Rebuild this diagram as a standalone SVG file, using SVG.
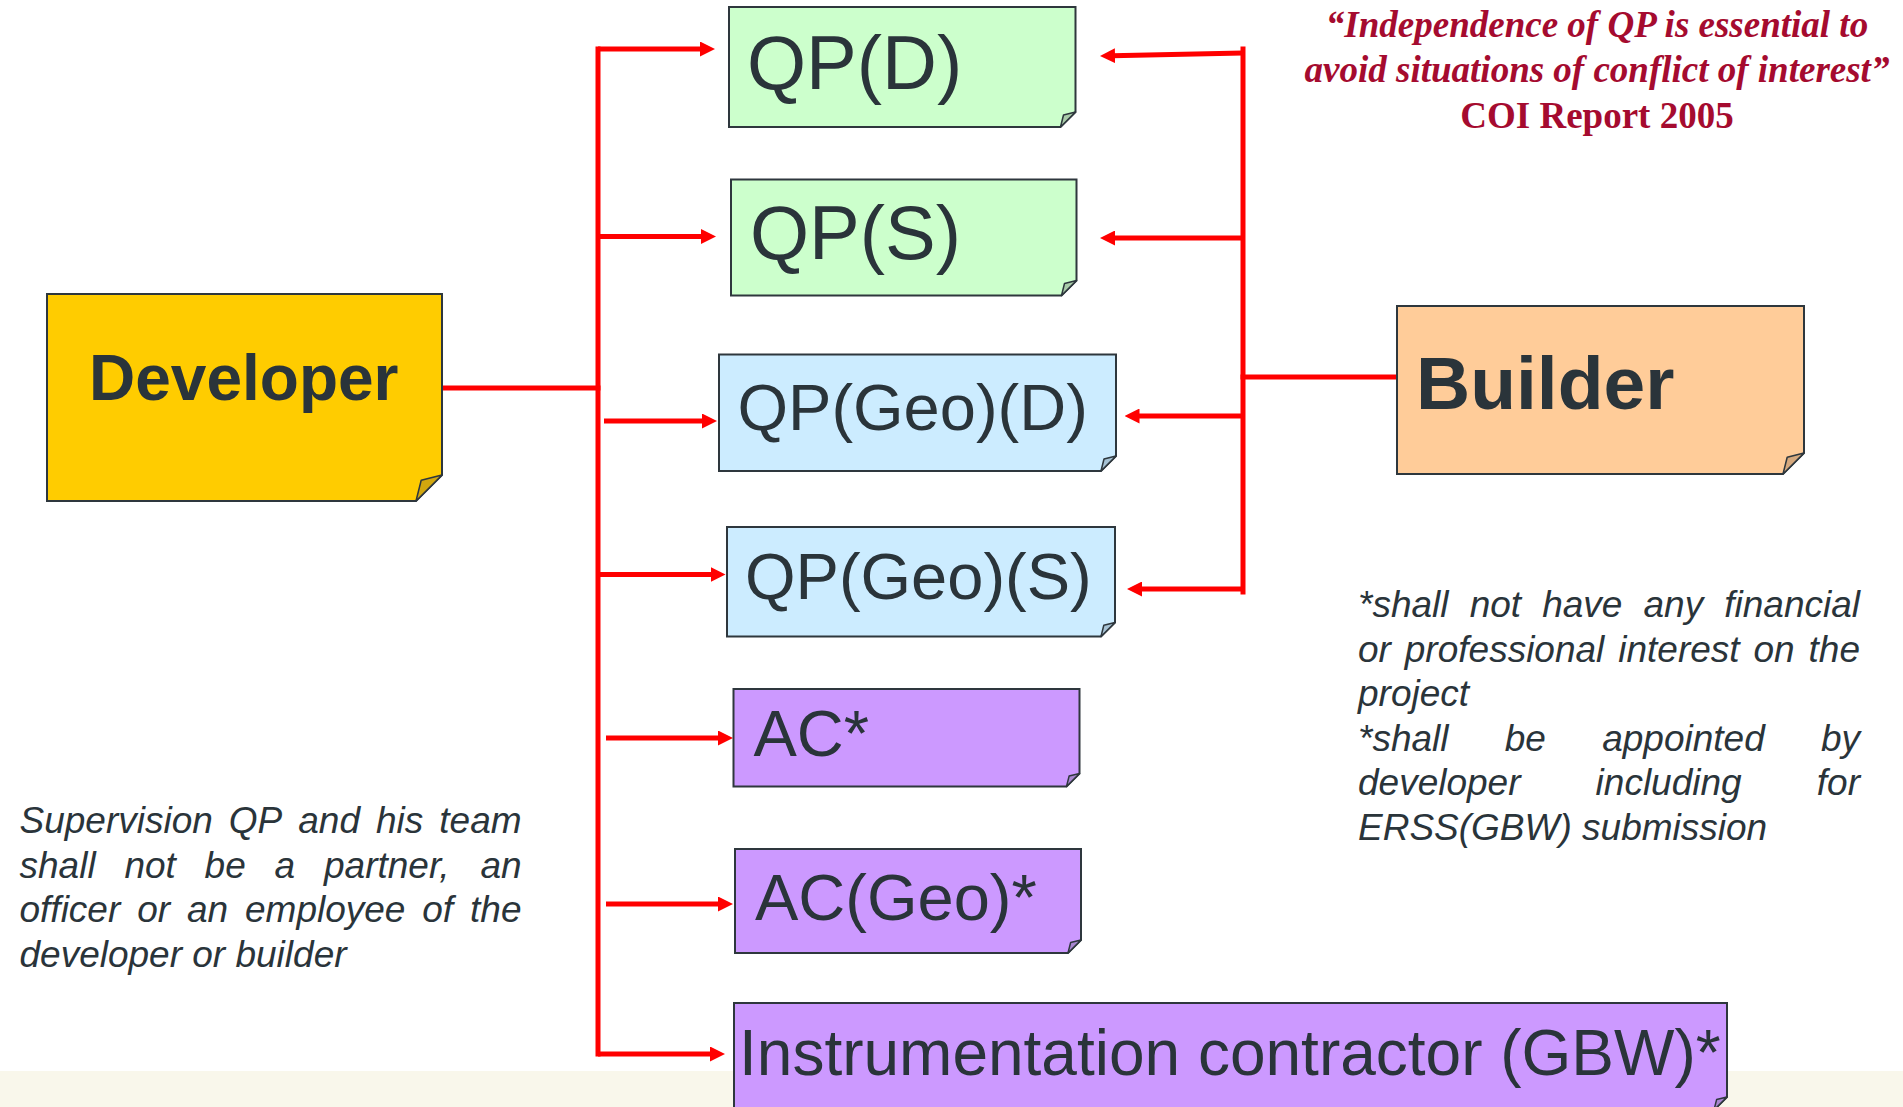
<svg xmlns="http://www.w3.org/2000/svg" width="1903" height="1107" viewBox="0 0 1903 1107">
<defs>
<style>
.box{stroke:#2E373D;stroke-width:2;stroke-linejoin:miter}
.fold{stroke:#2E373D;stroke-width:1.5;stroke-linejoin:round}
.lbl{font-family:"Liberation Sans",Arial,sans-serif;fill:#2A343A}
.bold{font-weight:bold}
.note{font-family:"Liberation Sans",Arial,sans-serif;font-style:italic;font-size:37px;fill:#2A343A}
.quote{font-family:"Liberation Serif","Times New Roman",serif;font-size:37px;font-weight:bold;fill:#A50B2F;text-anchor:middle}
.wire{stroke:#FF0000;stroke-width:5;fill:none;stroke-linecap:square}
.arr{stroke:#FF0000;stroke-width:5;fill:none;stroke-linecap:butt;marker-end:url(#ah)}
</style>
<marker id="ah" viewBox="0 0 15 15" refX="3" refY="7.5" markerWidth="15" markerHeight="15" markerUnits="userSpaceOnUse" orient="auto">
<path d="M0,0 L15,7.5 L0,15 z" fill="#FF0000"/>
</marker>
</defs>

<rect x="0" y="0" width="1903" height="1107" fill="#FFFFFF"/>
<rect x="0" y="1071" width="1903" height="36" fill="#F9F7EB"/>

<g id="connectors">
<line class="wire" x1="444" y1="388" x2="598" y2="388"/>
<line class="wire" x1="598" y1="49" x2="598" y2="1054"/>
<line class="arr" x1="598" y1="49" x2="703" y2="49"/>
<line class="arr" x1="598" y1="236.5" x2="704" y2="236.5"/>
<line class="arr" x1="604" y1="421" x2="705" y2="421"/>
<line class="arr" x1="598" y1="574.5" x2="713.5" y2="574.5"/>
<line class="arr" x1="606" y1="738" x2="721" y2="738"/>
<line class="arr" x1="606" y1="904" x2="721" y2="904"/>
<line class="arr" x1="598" y1="1054" x2="713" y2="1054"/>

<line class="wire" x1="1396" y1="377" x2="1243" y2="377"/>
<line class="wire" x1="1243" y1="49" x2="1243" y2="592"/>
<line class="arr" x1="1243" y1="53" x2="1112" y2="55.7"/>
<line class="arr" x1="1243" y1="238" x2="1112" y2="238"/>
<line class="arr" x1="1243" y1="416" x2="1136.5" y2="416"/>
<line class="arr" x1="1243" y1="589" x2="1139" y2="589"/>
</g>

<g id="developer">
<polygon class="box" fill="#FFCC00" points="47,294 442,294 442,475 416,501 47,501"/>
<polygon class="fold" fill="#D2A70E" points="416,501 421.2,480.2 442,475"/>
<text class="lbl bold" x="89" y="400" font-size="64">Developer</text>
</g>

<g id="qp-d">
<polygon class="box" fill="#CCFFCC" points="729,7 1075.5,7 1075.5,112 1060.5,127 729,127"/>
<polygon class="fold" fill="#A9CCA9" points="1060.5,127 1063.5,115 1075.5,112"/>
<text class="lbl" x="747" y="88.5" font-size="76">QP(D)</text>
</g>

<g id="qp-s">
<polygon class="box" fill="#CCFFCC" points="731,179.5 1076.5,179.5 1076.5,280.5 1061.5,295.5 731,295.5"/>
<polygon class="fold" fill="#A9CCA9" points="1061.5,295.5 1064.5,283.5 1076.5,280.5"/>
<text class="lbl" x="750" y="258.5" font-size="76">QP(S)</text>
</g>

<g id="qp-geo-d">
<polygon class="box" fill="#CCECFF" points="719,354.5 1116,354.5 1116,456 1101,471 719,471"/>
<polygon class="fold" fill="#A6C2D4" points="1101,471 1104,459 1116,456"/>
<text class="lbl" x="737.5" y="430" font-size="65">QP(Geo)(D)</text>
</g>

<g id="qp-geo-s">
<polygon class="box" fill="#CCECFF" points="727,527 1115,527 1115,622.5 1101,636.5 727,636.5"/>
<polygon class="fold" fill="#A6C2D4" points="1101,636.5 1103.8,625.3 1115,622.5"/>
<text class="lbl" x="745" y="599" font-size="65">QP(Geo)(S)</text>
</g>

<g id="ac">
<polygon class="box" fill="#CC99FF" points="733.5,689 1079.5,689 1079.5,773.5 1066.5,786.5 733.5,786.5"/>
<polygon class="fold" fill="#A886D0" points="1066.5,786.5 1069.1,776.1 1079.5,773.5"/>
<text class="lbl" x="753.5" y="756" font-size="65">AC*</text>
</g>

<g id="ac-geo">
<polygon class="box" fill="#CC99FF" points="735,849 1081,849 1081,940 1068,953 735,953"/>
<polygon class="fold" fill="#A886D0" points="1068,953 1070.6,942.6 1081,940"/>
<text class="lbl" x="755" y="919.5" font-size="65">AC(Geo)*</text>
</g>

<g id="instrumentation">
<polygon class="box" fill="#CC99FF" points="734,1003 1727,1003 1727,1097 1714,1110 734,1110"/>
<polygon class="fold" fill="#A886D0" points="1714,1110 1716.6,1099.6 1727,1097"/>
<text class="lbl" x="739" y="1074.5" font-size="64">Instrumentation contractor (GBW)*</text>
</g>

<g id="builder">
<polygon class="box" fill="#FFCC99" points="1397,306 1804,306 1804,453 1783,474 1397,474"/>
<polygon class="fold" fill="#D6A97E" points="1783,474 1787.2,457.2 1804,453"/>
<text class="lbl bold" x="1416" y="409" font-size="75">Builder</text>
</g>

<g id="quote">
<text class="quote" x="1597" y="37" font-style="italic">“Independence of QP is essential to</text>
<text class="quote" x="1597" y="82" font-style="italic">avoid situations of conflict of interest”</text>
<text class="quote" x="1597" y="127.5">COI Report 2005</text>
</g>

<g id="note-left">
<text class="note" y="833"><tspan x="19.5">Supervision</tspan><tspan x="228.8">QP</tspan><tspan x="298.3">and</tspan><tspan x="376">his</tspan><tspan x="439.3">team</tspan></text>
<text class="note" y="877.5"><tspan x="19.5">shall</tspan><tspan x="124.4">not</tspan><tspan x="204.6">be</tspan><tspan x="274.6">a</tspan><tspan x="324">partner,</tspan><tspan x="480.4">an</tspan></text>
<text class="note" y="922"><tspan x="19.5">officer</tspan><tspan x="137.2">or</tspan><tspan x="187">an</tspan><tspan x="245">employee</tspan><tspan x="422.3">of</tspan><tspan x="470.1">the</tspan></text>
<text class="note" x="19.5" y="966.5">developer or builder</text>
</g>

<g id="note-right">
<text class="note" y="617"><tspan x="1358">*shall</tspan><tspan x="1469.7">not</tspan><tspan x="1542.2">have</tspan><tspan x="1643.5">any</tspan><tspan x="1724.3">financial</tspan></text>
<text class="note" y="661.5"><tspan x="1358">or</tspan><tspan x="1404.8">professional</tspan><tspan x="1618.3">interest</tspan><tspan x="1753.5">on</tspan><tspan x="1808.6">the</tspan></text>
<text class="note" x="1358" y="706">project</text>
<text class="note" y="750.5"><tspan x="1358">*shall</tspan><tspan x="1504.8">be</tspan><tspan x="1602.2">appointed</tspan><tspan x="1821">by</tspan></text>
<text class="note" y="795"><tspan x="1358">developer</tspan><tspan x="1595.6">including</tspan><tspan x="1816.8">for</tspan></text>
<text class="note" x="1358" y="839.5">ERSS(GBW) submission</text>
</g>
</svg>
